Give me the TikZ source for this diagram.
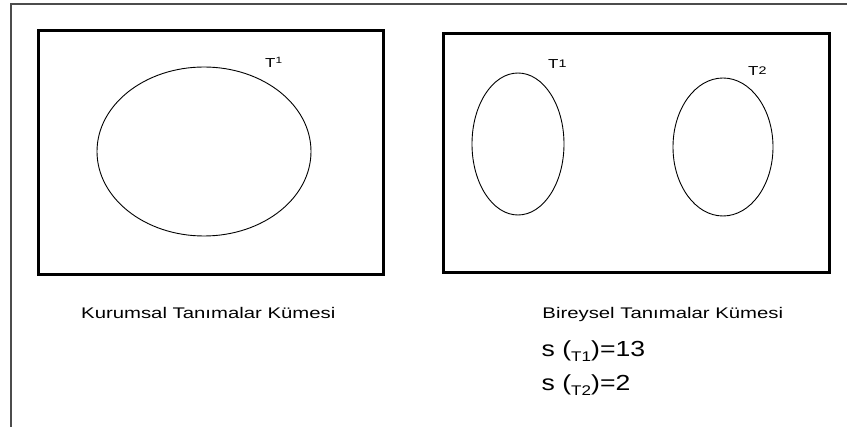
\documentclass[tikz,border=0pt]{standalone}
\usepackage{graphicx}
\usepackage{fontspec}
\setmainfont{Liberation Sans}
\usetikzlibrary{positioning}
\newcommand{\genis}[2][1.3]{\scalebox{#1}[1]{#2}}

\begin{document}
\begin{tikzpicture}[x=1pt,y=-1pt,
    kutu/.style={draw=black,line width=3pt},
    kume/.style={draw=black,line width=0.9pt},
    etiket/.style={inner sep=0pt,anchor=base west,font=\fontsize{15.4}{18}\selectfont},
    tlabel/.style={inner sep=0pt,anchor=base west,font=\fontsize{13}{14}\selectfont},
    sayi/.style={inner sep=0pt,anchor=base west,font=\fontsize{21.8}{24}\selectfont}]
    \useasboundingbox (0,0) rectangle (847,427);
    % ---- çerçeve ----
    \draw[line width=1.3pt,black!70] (847,4) -- (11,4) -- (11,427);
    % ---- kurumsal ----
    \draw[kutu] (38.5,30.5) rectangle (383.3,274.3);
    \draw[kume] (204,151.5) ellipse [x radius=107,y radius=84.5];
    \node[tlabel] (k1) at (265,67.5) {\genis{T\textsuperscript{1}}};
    \node[etiket] (kad) at (81,318.3) {\genis[1.32]{Kurumsal Tanımalar Kümesi}};
    % ---- bireysel ----
    \draw[kutu] (443.8,33.7) rectangle (829,272.3);
    \draw[kume] (518,144) ellipse [x radius=46,y radius=71];
    \draw[kume] (723,147) ellipse [x radius=50,y radius=69];
    \node[tlabel] (b1) at (548,68.5) {\genis{T\raisebox{0.8pt}{\fontsize{11}{11}\selectfont 1}}};
    \node[tlabel] (b2) at (748,75.5) {\genis{T\raisebox{0.8pt}{\fontsize{11}{11}\selectfont 2}}};
    \node[etiket,anchor=base east] (bad) at (783.3,318.3) {\genis[1.32]{Bireysel Tanımalar Kümesi}};
    % ---- sayılar ----
    \node[sayi] (s1) at (541.5,357) {\genis[1.22]{s (\raisebox{-4.5pt}{\fontsize{14}{14}\selectfont T1})=13}};
    \node[sayi] (s2) at (541.5,390.7) {\genis[1.22]{s (\raisebox{-4.5pt}{\fontsize{14}{14}\selectfont T2})=2}};
\end{tikzpicture}
\end{document}
